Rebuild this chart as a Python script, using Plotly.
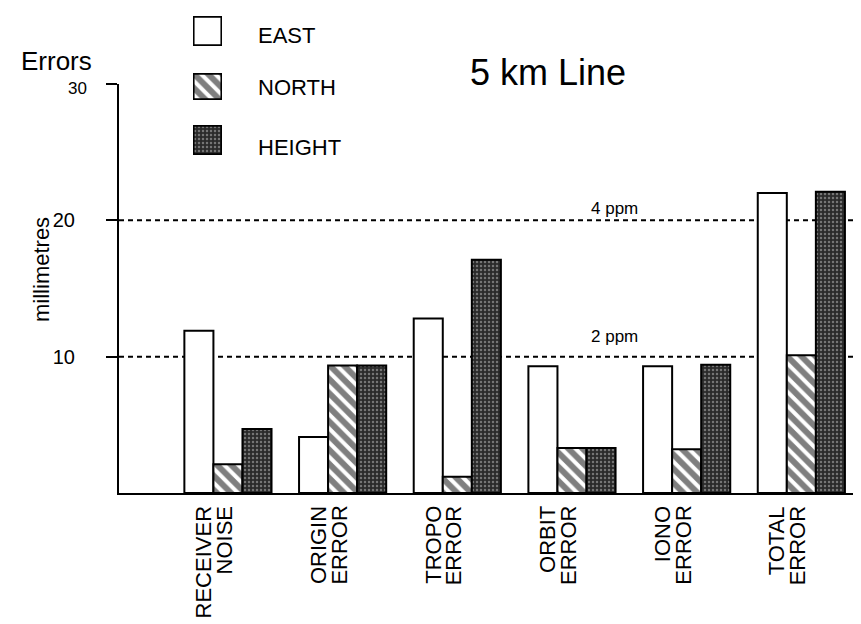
import plotly.graph_objects as go

# ---------------- data ----------------
categories = ["RECEIVER NOISE", "ORIGIN ERROR", "TROPO ERROR", "ORBIT ERROR", "IONO ERROR", "TOTAL ERROR"]
category_lines = [("RECEIVER", "NOISE"), ("ORIGIN", "ERROR"), ("TROPO", "ERROR"),
                  ("ORBIT", "ERROR"), ("IONO", "ERROR"), ("TOTAL", "ERROR")]
east = [11.9, 4.1, 12.8, 9.3, 9.3, 22.0]
north = [2.1, 9.35, 1.2, 3.3, 3.2, 10.1]
height = [4.7, 9.35, 17.1, 3.3, 9.4, 22.1]
series_names = ["EAST", "NORTH", "HEIGHT"]
ppm_levels = [2, 4]
line_length_km = 5
ytick_vals = [10, 20]
ytick_text = ["10", "20"]
ytop_val = 30

# ---------------- geometry helpers ----------------
W, H = 861, 624
def px(x):
    return x / W
def py(y):
    return 1 - y / H

FONT = "Liberation Sans, Arial, Helvetica, sans-serif"

styles = {
    "EAST": dict(color="white", line=dict(color="black", width=2)),
    "NORTH": dict(color="white", line=dict(color="black", width=2),
                  pattern=dict(shape="\\", fgcolor="black", bgcolor="white", size=10, solidity=0.6)),
    "HEIGHT": dict(color="#2a2a2a", line=dict(color="black", width=2),
                   pattern=dict(shape=".", fgcolor="#c0c0c0", bgcolor="#2a2a2a", size=4, solidity=0.3)),
}

fig = go.Figure()
for name, vals in zip(series_names, [east, north, height]):
    fig.add_trace(go.Bar(x=categories, y=vals, name=name, marker=styles[name],
                         xaxis="x", yaxis="y", showlegend=False))

# legend swatches drawn as tiny subplots (one bar each)
legend_boxes = {"EAST": (8, 38), "NORTH": (65, 92), "HEIGHT": (117, 147)}
legend_text_y = {"EAST": 28, "NORTH": 79, "HEIGHT": 139}
legend_x = (185, 214)
layout_axes = {}
for i, name in enumerate(series_names):
    k = i + 2
    fig.add_trace(go.Bar(x=[0], y=[1], width=[1], marker=styles[name],
                         xaxis=f"x{k}", yaxis=f"y{k}", showlegend=False, hoverinfo="skip"))
    y0, y1 = legend_boxes[name]
    layout_axes[f"xaxis{k}"] = dict(domain=[px(legend_x[0]), px(legend_x[1])], range=[-0.52, 0.52],
                                     visible=False, fixedrange=True, anchor=f"y{k}")
    layout_axes[f"yaxis{k}"] = dict(domain=[py(y1), py(y0)], range=[-0.03, 1.03],
                                     visible=False, fixedrange=True, anchor=f"x{k}")

annotations = []
for name in series_names:
    annotations.append(dict(text=name, x=px(248), y=py(legend_text_y[name]), xref="paper", yref="paper",
                            xanchor="left", yanchor="middle", showarrow=False,
                            font=dict(family=FONT, size=22, color="black")))
# title
annotations.append(dict(text="5 km Line", x=px(460), y=py(65), xref="paper", yref="paper",
                        xanchor="left", yanchor="middle", showarrow=False,
                        font=dict(family=FONT, size=36, color="black")))
# Errors
annotations.append(dict(text="Errors", x=px(11), y=py(53), xref="paper", yref="paper",
                        xanchor="left", yanchor="middle", showarrow=False,
                        font=dict(family=FONT, size=26, color="black")))
# smaller top tick label
annotations.append(dict(text=str(ytop_val), x=px(81), y=ytop_val, xref="paper", yref="y",
                        xanchor="right", yanchor="middle", yshift=-4, showarrow=False,
                        font=dict(family=FONT, size=17, color="black")))
# y title
annotations.append(dict(text="millimetres", x=px(33), y=py(262), xref="paper", yref="paper",
                        xanchor="center", yanchor="middle", textangle=-90, showarrow=False,
                        font=dict(family=FONT, size=22, color="black")))
# category labels (two lines, top aligned)
line_gap = 21
block_shift = -14
for cat, (l1, l2) in zip(categories, category_lines):
    for j, txt in enumerate((l1, l2)):
        annotations.append(dict(text=txt, x=cat, xref="x", y=py(496), yref="paper",
                                xanchor="center", yanchor="top", textangle=-90,
                                showarrow=False, xshift=block_shift + (j - 0.5) * line_gap,
                                font=dict(family=FONT, size=22, color="black")))
# ppm lines
ppm_label_shift = {2: 9, 4: 0}
shapes = []
for ppm in ppm_levels:
    val = ppm * line_length_km
    shapes.append(dict(type="line", xref="x domain", yref="y", x0=0, x1=1, y0=val, y1=val,
                       line=dict(color="black", width=2, dash="5px,4px"), layer="below"))
    annotations.append(dict(text=f"{ppm} ppm", x=px(606), y=val, xref="paper", yref="y",
                            xanchor="center", yanchor="bottom", yshift=ppm_label_shift[ppm],
                            showarrow=False, font=dict(family=FONT, size=17, color="black")))

fig.update_layout(
    width=W, height=H,
    margin=dict(l=0, r=0, t=0, b=0, autoexpand=False),
    paper_bgcolor="white", plot_bgcolor="white",
    barmode="group", bargap=0.24, bargroupgap=0,
    showlegend=False,
    font=dict(family=FONT, color="black"),
    xaxis=dict(domain=[px(111), 1], type="category", range=[-0.95, 5.59],
               showticklabels=False, ticks="", showgrid=False, zeroline=False,
               showline=True, linecolor="black", linewidth=2, anchor="y", fixedrange=True),
    yaxis=dict(domain=[py(485), py(76)], range=[0, ytop_val],
               tickvals=ytick_vals + [ytop_val], ticktext=ytick_text + [""],
               ticks="outside", ticklen=11, tickwidth=2, tickcolor="black",
               ticklabelstandoff=27, tickfont=dict(family=FONT, size=20, color="black"),
               showgrid=False, zeroline=False, showline=True, linecolor="black", linewidth=2,
               anchor="x", fixedrange=True),
    annotations=annotations, shapes=shapes,
    **layout_axes,
)

fig.write_html("out.html")
